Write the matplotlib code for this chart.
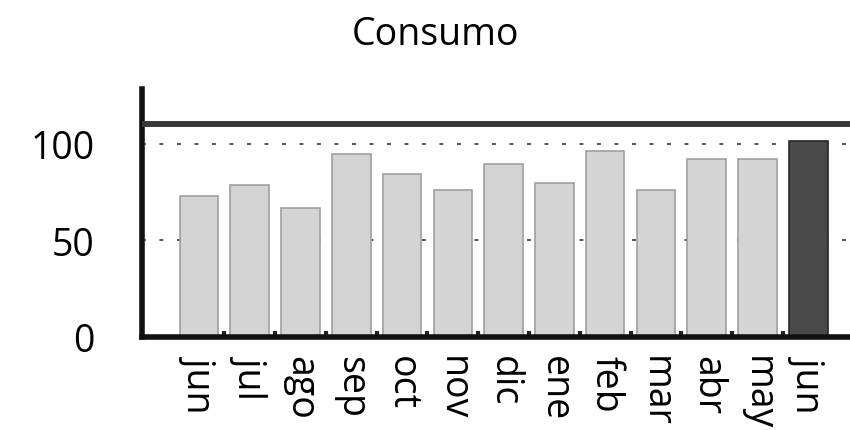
import matplotlib
matplotlib.use("Agg")
import matplotlib.pyplot as plt
import numpy as np

months = ["jun", "jul", "ago", "sep", "oct", "nov", "dic", "ene", "feb", "mar", "abr", "may", "jun"]
consumo = [73, 79, 67, 95, 84.5, 76, 89.5, 80, 96.5, 76, 92, 92, 101.5]
limite = 110.5
yticks = [0, 50, 100]

plt.rcParams['font.family'] = ['Open Sans', 'DejaVu Sans']

fig = plt.figure(figsize=(8.5, 4.31), dpi=100)
ax = fig.add_axes([0.167, 0.2158, 0.833, 0.5754])

x = np.arange(len(months))
colors = ['#d4d4d4'] * (len(months) - 1) + ['#4a4a4a']
edges = ['#a0a0a0'] * (len(months) - 1) + ['#262626']
ax.bar(x, consumo, width=0.76, color=colors, edgecolor=edges, linewidth=1.2, zorder=2)

ax.axhline(limite, color='#3a3a3a', linewidth=4.3, zorder=3)

ax.set_ylim(0, 128.5)
ax.set_xlim(-1.12, 12.82)
ax.set_yticks(yticks)
ax.set_xticks(x)
ax.set_xticklabels(months, rotation=-90, fontsize=27)
ax.set_xticks(x[:-1] + 0.5, minor=True)
ax.tick_params(axis='x', which='major', length=0, pad=13)
ax.tick_params(axis='x', which='minor', direction='in', length=4, width=3, color='#222')
ax.tick_params(axis='y', length=0, pad=34, labelsize=27)

ax.yaxis.grid(True, linestyle=(0, (2, 7)), color='#555555', linewidth=1.4, zorder=1)
ax.set_axisbelow(True)

for s in ['top', 'right']:
    ax.spines[s].set_visible(False)
ax.spines['left'].set_linewidth(4)
ax.spines['bottom'].set_linewidth(4)
ax.spines['left'].set_color('#111')
ax.spines['bottom'].set_color('#111')

fig.text(0.512, 0.918, "Consumo", ha='center', va='center', fontsize=27)

fig.savefig("out.png", dpi=100)
